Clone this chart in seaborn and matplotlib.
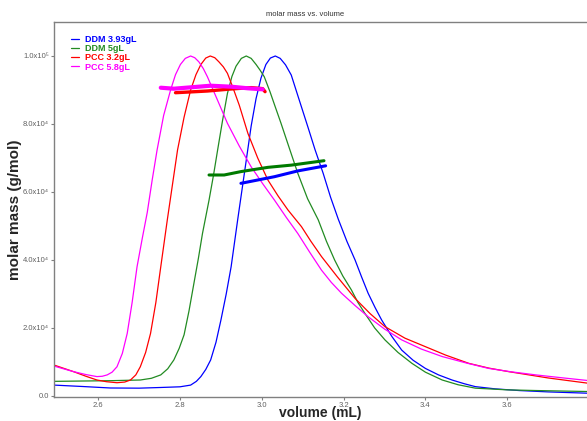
import matplotlib
matplotlib.use("Agg")
import matplotlib.pyplot as plt
from matplotlib.ticker import MultipleLocator, FuncFormatter
import seaborn as sns
import pandas as pd

# Datos (volumen en mL, masa molar en g/mol)
series_labels = ["DDM 3.93gL", "DDM 5gL", "PCC 3.2gL", "PCC 5.8gL"]
series_colors = ["#0000ff", "#228b22", "#ff0000", "#ff00ff"]
thick_colors = ["#0000ff", "#007a00", "#ff0000", "#ff00ff"]

# trazas finas (cromatogramas normalizados)
ddm393_vol = [2.492, 2.560, 2.630, 2.700, 2.753, 2.800, 2.826, 2.840, 2.851, 2.863, 2.875,
              2.888, 2.900, 2.913, 2.925, 2.941, 2.958, 2.974, 2.986, 2.998, 3.010, 3.021,
              3.033, 3.045, 3.058, 3.072, 3.085, 3.097, 3.113, 3.130, 3.150, 3.168, 3.187,
              3.208, 3.228, 3.244, 3.260, 3.277, 3.293, 3.318, 3.342, 3.370, 3.400, 3.432,
              3.465, 3.495, 3.522, 3.570, 3.629, 3.700, 3.801]
ddm393_mm = [3200, 2800, 2350, 2300, 2500, 2700, 3200, 4300, 5700, 7800, 10600,
             15800, 22300, 30000, 38000, 51800, 66000, 79400, 87500, 93500, 97500, 99400,
             100000, 99300, 97400, 94400, 89500, 85000, 79000, 72500, 65500, 58500, 52000,
             45500, 40000, 35000, 30200, 26000, 22350, 17500, 13500, 10500, 8100, 6200,
             4700, 3600, 2750, 2100, 1600, 1200, 800]

ddm5_vol = [2.492, 2.560, 2.630, 2.703, 2.730, 2.753, 2.770, 2.785, 2.798, 2.810, 2.822,
            2.834, 2.845, 2.855, 2.871, 2.882, 2.892, 2.904, 2.916, 2.927, 2.937, 2.950,
            2.962, 2.974, 2.986, 2.996, 3.006, 3.020, 3.033, 3.047, 3.067, 3.088, 3.112,
            3.138, 3.158, 3.178, 3.198, 3.219, 3.235, 3.252, 3.276, 3.301, 3.333, 3.367,
            3.400, 3.441, 3.480, 3.522, 3.600, 3.670, 3.801]
ddm5_mm = [4300, 4400, 4500, 4700, 5200, 6200, 8000, 10600, 14000, 18000, 25000,
           33100, 40500, 47800, 57600, 65000, 72350, 81000, 89000, 94000, 97000, 99300,
           100000, 99300, 97500, 95800, 93900, 89500, 85000, 80200, 73000, 65500, 58000,
           51800, 45500, 40000, 35300, 31200, 27500, 24300, 20000, 16500, 12800, 9600,
           7000, 4700, 3300, 2300, 1800, 1600, 1300]

pcc32_vol = [2.492, 2.540, 2.570, 2.597, 2.620, 2.646, 2.665, 2.679, 2.692, 2.703, 2.716,
             2.728, 2.741, 2.753, 2.769, 2.782, 2.794, 2.810, 2.826, 2.839, 2.851, 2.863,
             2.874, 2.885, 2.895, 2.906, 2.916, 2.930, 2.945, 2.966, 2.990, 3.015, 3.040,
             3.064, 3.097, 3.120, 3.146, 3.185, 3.228, 3.265, 3.301, 3.350, 3.400, 3.450,
             3.506, 3.555, 3.604, 3.700, 3.801]
pcc32_mm = [9100, 7150, 5800, 4700, 4200, 3900, 4100, 4700, 6200, 8600, 12800,
            18400, 27500, 38000, 51800, 62500, 72350, 82000, 90000, 94500, 97500, 99400,
            100000, 99500, 98300, 96800, 94900, 90500, 85500, 77250, 70000, 63500, 58800,
            54700, 49800, 45500, 41000, 35000, 28700, 24200, 20400, 17000, 14500, 12000,
            9600, 8200, 7150, 5300, 3700]

pcc58_vol = [2.492, 2.540, 2.570, 2.597, 2.610, 2.622, 2.634, 2.646, 2.659, 2.671, 2.683,
             2.695, 2.708, 2.720, 2.732, 2.744, 2.760, 2.777, 2.789, 2.801, 2.813, 2.826,
             2.836, 2.846, 2.857, 2.867, 2.890, 2.916, 2.945, 2.974, 3.003, 3.031, 3.060,
             3.088, 3.117, 3.146, 3.170, 3.195, 3.228, 3.260, 3.300, 3.342, 3.390, 3.441,
             3.500, 3.555, 3.610, 3.670, 3.730, 3.801]
pcc58_mm = [8800, 7150, 6300, 5700, 5800, 6200, 7000, 8600, 12500, 18400, 27500,
            38000, 46500, 54000, 63500, 72350, 82500, 90000, 94500, 97500, 99300, 100000,
            99500, 98300, 96300, 93900, 87500, 80200, 73500, 67400, 62300, 57600, 52500,
            47800, 42300, 37000, 33400, 30200, 26600, 23300, 19700, 16500, 13800, 11600,
            9700, 8100, 7100, 6200, 5400, 4500]

# lineas gruesas (masa molar medida)
ddm393_mw_vol = [2.949, 3.031, 3.088, 3.156]
ddm393_mw = [62550, 64500, 66200, 67700]
ddm5_mw_vol = [2.871, 2.908, 2.949, 3.015, 3.072, 3.152]
ddm5_mw = [65000, 65000, 66000, 67250, 67900, 69200]
pcc32_mw_vol = [2.789, 2.867, 2.925, 2.974, 3.002, 3.008]
pcc32_mw = [89200, 89700, 90300, 90700, 90400, 89500]
pcc58_mw_vol = [2.753, 2.785, 2.826, 2.875, 2.925, 2.966, 3.002]
pcc58_mw = [90670, 90380, 90780, 91260, 90970, 90500, 90200]

trazas = [(ddm393_vol, ddm393_mm), (ddm5_vol, ddm5_mm), (pcc32_vol, pcc32_mm), (pcc58_vol, pcc58_mm)]
masas = [(ddm393_mw_vol, ddm393_mw), (ddm5_mw_vol, ddm5_mw), (pcc32_mw_vol, pcc32_mw),
         (pcc58_mw_vol, pcc58_mw)]
grosores = [2.2, 2.2, 2.4, 3.0]

sns.set_style("white")
plt.rcParams["font.family"] = ["Liberation Sans", "DejaVu Sans"]

fig = plt.figure(figsize=(5.87, 4.21), dpi=100)
ax = fig.add_axes([54 / 587, 1 - 397 / 421, 1 - 54 / 587, (397 - 22) / 421])

for (vol, mm), etiqueta, color in zip(trazas, series_labels, series_colors):
    df = pd.DataFrame({"vol": vol, "mm": mm})
    sns.lineplot(data=df, x="vol", y="mm", color=color, linewidth=0.9, label=etiqueta,
                 estimator=None, sort=False, ax=ax)

for (vol, mm), color, lw in zip(masas, thick_colors, grosores):
    df = pd.DataFrame({"vol": vol, "mm": mm})
    sns.lineplot(data=df, x="vol", y="mm", color=color, linewidth=lw,
                 estimator=None, sort=False, ax=ax, legend=False)

ax.set_xlim(2.492, 3.795)
ax.set_ylim(-300, 110000)

ax.xaxis.set_major_locator(MultipleLocator(0.2))
ax.xaxis.set_minor_locator(MultipleLocator(0.05))
ax.yaxis.set_major_locator(MultipleLocator(20000))
ax.yaxis.set_minor_locator(MultipleLocator(10000))

sup = {"4": "\u2074", "5": "\u2075"}


def formato_y(valor, pos):
    if valor == 0:
        return "0.0"
    exp = len(str(int(valor))) - 1
    mant = valor / 10 ** exp
    return "%.1fx10%s" % (mant, sup[str(exp)])


ax.yaxis.set_major_formatter(FuncFormatter(formato_y))
ax.xaxis.set_major_formatter(FuncFormatter(lambda v, p: "%.1f" % v))

ax.tick_params(which="both", direction="out", colors="#808080", labelcolor="#606060",
               labelsize=5.5, width=0.8)
ax.tick_params(which="major", length=2.5, pad=1)
ax.tick_params(which="minor", length=2)
ax.tick_params(axis="x", bottom=True)
ax.tick_params(axis="y", left=True)

for lado in ["left", "bottom", "top"]:
    ax.spines[lado].set_color("#808080")
    ax.spines[lado].set_linewidth(1.0)
ax.spines["right"].set_visible(False)

ax.set_xlabel("volume (mL)", fontsize=10, fontweight="bold")
ax.set_ylabel("molar mass (g/mol)", fontsize=11, fontweight="bold")
ax.xaxis.set_label_coords(0.5, -23 / 375, transform=ax.transAxes)
ax.yaxis.set_label_coords(-39 / 533, 0.5, transform=ax.transAxes)
ax.xaxis.label.set_va("bottom")
ax.yaxis.label.set_va("center")

fig.text(305 / 587, 1 - 15 / 421, "molar mass vs. volume", fontsize=5.5, color="#333333",
         ha="center", va="center")

leg = ax.legend(loc="upper left", bbox_to_anchor=(71 / 587, 1 - 35 / 421),
                bbox_transform=fig.transFigure, frameon=False,
                prop={"weight": "bold", "size": 6.5}, labelcolor="linecolor",
                handlelength=0.9, handletextpad=0.6, labelspacing=0.02,
                borderpad=0, borderaxespad=0)

fig.savefig("out.png", dpi=100)
